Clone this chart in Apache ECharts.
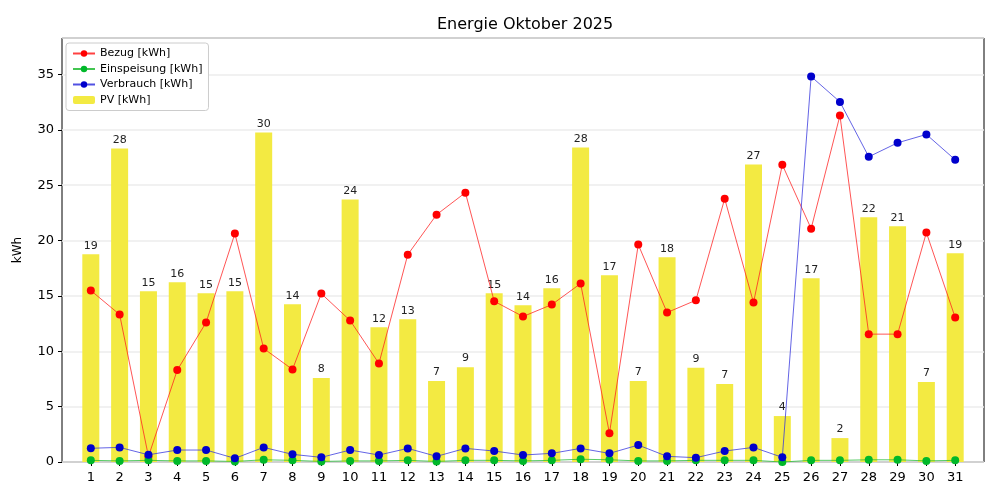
<!DOCTYPE html>
<html><head><meta charset="utf-8">
<script src="https://cdn.jsdelivr.net/npm/echarts@6/dist/echarts.min.js"></script>
<style>html,body{margin:0;padding:0;background:#fff}#c{width:1000px;height:500px}</style>
</head><body><div id="c"></div>
<script>
const days = [1,2,3,4,5,6,7,8,9,10,11,12,13,14,15,16,17,18,19,20,21,22,23,24,25,26,27,28,29,30,31];
const bezug = [15.49,13.32,0.5,8.3,12.6,20.63,10.25,8.36,15.21,12.78,8.9,18.73,22.34,24.33,14.52,13.14,14.22,16.12,2.59,19.64,13.5,14.61,23.78,14.4,26.85,21.08,31.3,11.55,11.55,20.72,13.05];
const einspeisung = [0.15,0.1,0.15,0.1,0.1,0.05,0.2,0.15,0.05,0.1,0.1,0.15,0.05,0.15,0.15,0.1,0.15,0.25,0.2,0.1,0.1,0.15,0.15,0.15,0.0,0.15,0.15,0.2,0.2,0.1,0.15];
const verbrauch = [1.24,1.32,0.65,1.08,1.08,0.33,1.32,0.69,0.42,1.08,0.63,1.23,0.51,1.23,0.99,0.63,0.78,1.23,0.78,1.53,0.51,0.39,0.99,1.32,0.42,34.82,32.53,27.57,28.83,29.59,27.3];
const pv = [18.76,28.32,15.42,16.24,15.24,15.42,29.77,14.25,7.58,23.72,12.18,12.9,7.31,8.57,15.24,14.16,15.7,28.41,16.87,7.31,18.49,8.52,7.04,26.88,4.15,16.6,2.16,22.1,21.29,7.22,18.85];
const yTicks = [0,5,10,15,20,25,30,35];

const pair = arr => days.map((d,i)=>[d, arr[i]]);
const font = 'DejaVu Sans';
const lineSeries = (name, data, color, lineColor) => ({
  name, type:'line', data: pair(data), symbol:'circle', symbolSize:8,
  itemStyle:{color}, lineStyle:{color: lineColor, width:0.9, opacity:0.85},
  z:3, animation:false
});

const chart = echarts.init(document.getElementById('c'));
chart.setOption({
  animation:false,
  textStyle:{fontFamily:font},
  title:{text:'Energie Oktober 2025', left:432, top:12, textStyle:{fontFamily:font, fontSize:16, fontWeight:'normal', color:'#000'}},
  grid:{left:62, right:16, top:38, bottom:38, show:true, borderColor:'#000', borderWidth:1, backgroundColor:'transparent'},
  legend:{
    orient:'vertical', left:66, top:43, padding:[5,6,5,6], itemGap:4.5, itemWidth:22, itemHeight:8,
    backgroundColor:'#fff', borderColor:'#cccccc', borderWidth:1, borderRadius:3,
    textStyle:{fontFamily:font, fontSize:11, color:'#000'},
    data:['Bezug [kWh]','Einspeisung [kWh]','Verbrauch [kWh]','PV [kWh]']
  },
  xAxis:{
    type:'value', min:0, max:32, interval:1,
    axisLine:{show:false},
    axisTick:{show:true, length:4, lineStyle:{color:'#000'}},
    axisLabel:{fontFamily:font, fontSize:13, color:'#000', margin:9, showMinLabel:false, showMaxLabel:false,
      formatter: v => days.includes(v) ? String(v) : ''},
    splitLine:{show:false}
  },
  yAxis:{
    type:'value', min:0, max:38.3, interval:5,
    name:'kWh', nameLocation:'middle', nameGap:38, nameRotate:90,
    nameTextStyle:{fontFamily:font, fontSize:12, color:'#000'},
    axisLine:{show:false},
    axisTick:{show:true, length:4, lineStyle:{color:'#000'}},
    axisLabel:{fontFamily:font, fontSize:13, color:'#000', margin:8, showMaxLabel:false,
      formatter: v => yTicks.includes(v) ? String(v) : ''},
    splitLine:{show:true, lineStyle:{color:'#ececec', width:1.5}}
  },
  series:[
    {name:'PV [kWh]', type:'bar', data: pair(pv), barWidth:17, z:1,
      itemStyle:{color:'#f3ea42'},
      label:{show:true, position:'top', distance:3, fontFamily:font, fontSize:11, color:'#222',
        formatter: p => String(Math.round(p.value[1]))}},
    lineSeries('Bezug [kWh]', bezug, '#ff0000', '#ff2020'),
    lineSeries('Einspeisung [kWh]', einspeisung, '#00b82a', '#22bb33'),
    lineSeries('Verbrauch [kWh]', verbrauch, '#0000cc', '#3333dd')
  ]
});
</script></body></html>
